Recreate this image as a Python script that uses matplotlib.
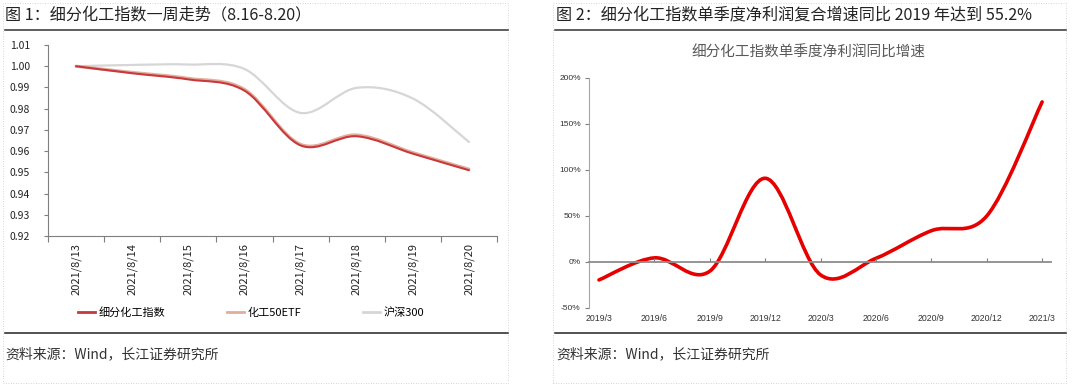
import matplotlib
matplotlib.use("Agg")
import matplotlib.pyplot as plt
from matplotlib.path import Path
from matplotlib.patches import PathPatch, Rectangle
from matplotlib.lines import Line2D

plt.rcParams['font.family'] = ['Noto Sans CJK SC', 'DejaVu Sans']

# ---- data: chart 1 ----
dates = ['2021/8/13', '2021/8/14', '2021/8/15', '2021/8/16',
         '2021/8/17', '2021/8/18', '2021/8/19', '2021/8/20']
chem_index = [1.000, 0.9967, 0.9938, 0.9885, 0.9627, 0.9670, 0.9588, 0.9510]
chem_etf = [1.000, 0.9971, 0.9943, 0.9891, 0.9632, 0.9676, 0.9593, 0.9515]
hs300 = [1.000, 1.0006, 1.0008, 0.9987, 0.9780, 0.9898, 0.9848, 0.9643]
names1 = ['细分化工指数', '化工50ETF', '沪深300']

# ---- data: chart 2 ----
quarters = ['2019/3', '2019/6', '2019/9', '2019/12', '2020/3',
            '2020/6', '2020/9', '2020/12', '2021/3']
profit_yoy = [-19.5, 4.5, -10, 91, -14, 4, 34, 50, 174]


def smooth(xs, ys):
    # Excel-like smoothed line: Catmull-Rom segments as cubic Bezier
    n = len(xs)
    verts = [(xs[0], ys[0])]
    codes = [Path.MOVETO]
    for i in range(n - 1):
        a = i - 1 if i > 0 else i
        b = i + 2 if i + 2 < n else i + 1
        c1 = (xs[i] + (xs[i + 1] - xs[a]) / 6, ys[i] + (ys[i + 1] - ys[a]) / 6)
        c2 = (xs[i + 1] - (xs[b] - xs[i]) / 6, ys[i + 1] - (ys[b] - ys[i]) / 6)
        verts += [c1, c2, (xs[i + 1], ys[i + 1])]
        codes += [Path.CURVE4] * 3
    return Path(verts, codes)


W, H = 1080, 386
fig = plt.figure(figsize=(W / 100, H / 100), dpi=100)

# panel frames (dotted)
for x0, x1 in [(3, 508), (553, 1066)]:
    fig.patches.append(Rectangle((x0 / W, 3 / H), (x1 - x0) / W, (H - 6) / H,
                                 transform=fig.transFigure, fill=False,
                                 ls=(0, (1, 2)), lw=0.6, ec='#c8c8c8'))
    fig.add_artist(Line2D([(x0 + 2) / W, x1 / W], [1 - 29.5 / H, 1 - 29.5 / H],
                          color='#333333', lw=1.1))
    fig.add_artist(Line2D([(x0 + 2) / W, x1 / W], [1 - 333 / H, 1 - 333 / H],
                          color='#222222', lw=1.1))

fig.text(5 / W, 1 - 15 / H, '图 1：细分化工指数一周走势（8.16-8.20）',
         fontsize=11.6, va='center', ha='left', color='#222222')
fig.text(556 / W, 1 - 15 / H, '图 2：细分化工指数单季度净利润复合增速同比 2019 年达到 55.2%',
         fontsize=11.6, va='center', ha='left', color='#222222')
fig.text(5 / W, 1 - 354 / H, '资料来源：Wind，长江证券研究所',
         fontsize=10, va='center', ha='left', color='#333333')
fig.text(556 / W, 1 - 354 / H, '资料来源：Wind，长江证券研究所',
         fontsize=10, va='center', ha='left', color='#333333')

# ---- chart 1 ----
ax1 = fig.add_axes([48 / W, 1 - 236 / H, 449 / W, 191 / H])
xs = list(range(len(dates)))
styles = [(hs300, '#d6d6d6', 1.6), (chem_etf, '#e3ad9a', 2.2), (chem_index, '#c8383c', 1.5)]
for ys, c, lw in styles:
    ax1.add_patch(PathPatch(smooth(xs, ys), fill=False, ec=c, lw=lw, capstyle='round'))
ax1.set_xlim(-0.5, len(dates) - 0.5)
ax1.set_ylim(0.92, 1.01)
ax1.set_yticks([0.92 + 0.01 * k for k in range(10)])
ax1.set_yticklabels([f'{0.92 + 0.01 * k:.2f}' for k in range(10)])
ax1.set_xticks([i - 0.5 for i in range(len(dates) + 1)])
ax1.set_xticklabels([])
ax1.set_xticks(xs, minor=True)
ax1.set_xticklabels(dates, minor=True, rotation=90, fontsize=8, color='#222222')
ax1.tick_params(axis='x', which='major', length=4, direction='out', color='#7f7f7f')
ax1.tick_params(axis='x', which='minor', length=0, pad=5)
ax1.tick_params(axis='y', length=3, direction='out', color='#7f7f7f', labelsize=7.5,
                labelcolor='#222222', pad=10)
for s in ['top', 'right']:
    ax1.spines[s].set_visible(False)
for s in ['left', 'bottom']:
    ax1.spines[s].set_color('#7f7f7f')
    ax1.spines[s].set_linewidth(0.8)
handles = [Line2D([], [], color=c, lw=2) for _, c, _ in styles[::-1]]
ax1.legend(handles, names1, ncol=3, loc='center', bbox_to_anchor=(0.452, -0.403),
           frameon=False, fontsize=8, handlelength=1.6, handletextpad=0.3,
           columnspacing=5.5)

# ---- chart 2 ----
ax2 = fig.add_axes([589 / W, 1 - 308 / H, 462 / W, 230 / H])
qx = list(range(len(quarters)))
ax2.add_patch(PathPatch(smooth(qx, profit_yoy), fill=False, ec='#e60000', lw=2.6,
                        capstyle='round'))
ax2.set_xlim(-0.18, 8.16)
ax2.set_ylim(-50, 200)
ax2.set_yticks([-50, 0, 50, 100, 150, 200])
ax2.set_yticklabels([f'{v}%' for v in [-50, 0, 50, 100, 150, 200]],
                    fontfamily=['Liberation Sans'])
ax2.tick_params(axis='y', length=3, direction='out', color='#7f7f7f', labelsize=6,
                labelcolor='#333333', pad=3)
ax2.spines['bottom'].set_position(('data', 0))
ax2.spines['bottom'].set_color('#8c8c8c')
ax2.spines['bottom'].set_linewidth(1.3)
ax2.spines['left'].set_color('#a6a6a6')
ax2.spines['left'].set_linewidth(0.8)
for s in ['top', 'right']:
    ax2.spines[s].set_visible(False)
ax2.set_xticks(qx[1:])
ax2.tick_params(axis='x', length=3, direction='in', color='#7f7f7f', labelbottom=False)
sec = ax2.secondary_xaxis(0.0)
sec.set_xticks(qx)
sec.set_xticklabels(quarters, fontfamily=['Liberation Sans'])
sec.tick_params(length=0, labelsize=6.3, labelcolor='#333333', pad=4)
sec.spines['bottom'].set_visible(False)
fig.text(808 / W, 1 - 53 / H, '细分化工指数单季度净利润同比增速', fontsize=10.5,
         ha='center', va='center', color='#595959')

fig.savefig('out.png', dpi=100)
